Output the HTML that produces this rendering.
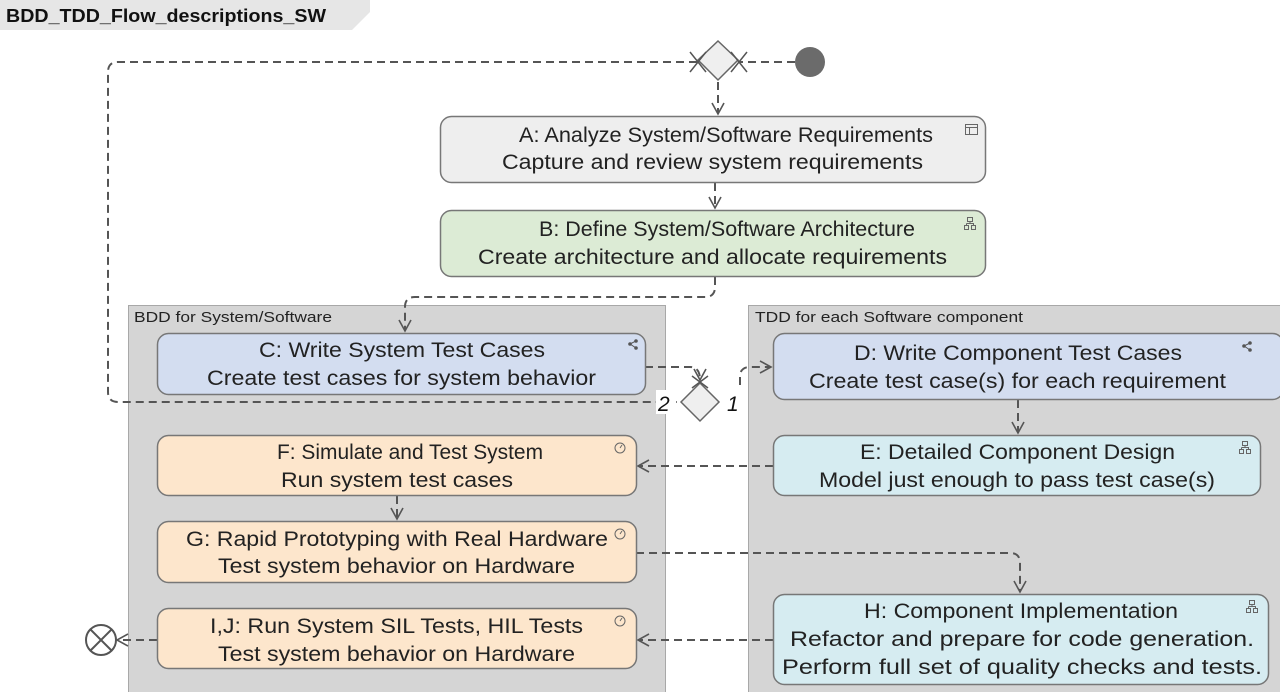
<!DOCTYPE html>
<html><head><meta charset="utf-8"><style>
html,body{margin:0;padding:0;background:#fff;width:1280px;height:692px;overflow:hidden}
svg{display:block}
text{font-family:"Liberation Sans",Arial,sans-serif;fill:#222}
</style></head><body>
<svg width="1280" height="692" viewBox="0 0 1280 692" xmlns="http://www.w3.org/2000/svg">
<defs>
<marker id="ar" markerWidth="14" markerHeight="14" refX="12" refY="7" orient="auto" markerUnits="userSpaceOnUse">
<path d="M1,1 L12,7 L1,13" fill="none" stroke="#555" stroke-width="1.6"/></marker>
</defs>
<path d="M0,0 H370 V12 L352,30 H0 Z" fill="#e6e6e6"/>
<text x="6" y="22" font-size="18" font-weight="bold" textLength="320" lengthAdjust="spacingAndGlyphs" style="fill:#111">BDD_TDD_Flow_descriptions_SW</text>

<rect x="128.5" y="305.5" width="537" height="392" fill="#d5d5d5" stroke="#a8a8a8"/>
<text x="134" y="322" font-size="15" textLength="198" lengthAdjust="spacingAndGlyphs">BDD for System/Software</text>
<rect x="748.5" y="305.5" width="540" height="392" fill="#d5d5d5" stroke="#a8a8a8"/>
<text x="755" y="322" font-size="15" textLength="268" lengthAdjust="spacingAndGlyphs">TDD for each Software component</text>

<g fill="none" stroke="#555" stroke-width="2" stroke-dasharray="8,5">
<path d="M795,62 H740"/>
<path d="M697,62 H118 Q108,62 108,72 V392 Q108,402 118,402 H678"/>
<path d="M718,82 V114" marker-end="url(#ar)"/>
<path d="M715,183 V208" marker-end="url(#ar)"/>
<path d="M715,277 V287 Q715,297 705,297 H415 Q405,297 405,307 V331" marker-end="url(#ar)"/>
<path d="M645,367 H690 Q700,367 700,380" marker-end="url(#ar)"/>
<path d="M740,385 V377 Q740,367 750,367 H771" marker-end="url(#ar)"/>
<path d="M1018,400 V433" marker-end="url(#ar)"/>
<path d="M773,466 H638" marker-end="url(#ar)"/>
<path d="M397,496 V519" marker-end="url(#ar)"/>
<path d="M636,553 H1010 Q1020,553 1020,563 V592" marker-end="url(#ar)"/>
<path d="M773,640 H638" marker-end="url(#ar)"/>
<path d="M157,640 H117" marker-end="url(#ar)"/>
</g>

<path d="M718,41 L738,60 L718,80 L698,60 Z" fill="#efefef" stroke="#666" stroke-width="1.5"/>
<path d="M690,52 L706,72 M690,72 L706,52 M731,52 L747,72 M731,72 L747,52" stroke="#555" stroke-width="1.5"/>
<circle cx="810" cy="62" r="15" fill="#6b6b6b"/>

<path d="M700,383 L719,402 L700,421 L681,402 Z" fill="#efefef" stroke="#666" stroke-width="1.5"/>
<path d="M692,376 L708,388 M692,388 L708,376" stroke="#555" stroke-width="1.5"/>
<rect x="656" y="390" width="20" height="24" fill="#fff"/>
<text x="658" y="411" font-size="21" font-style="italic" style="fill:#111">2</text>
<text x="727" y="411" font-size="21" font-style="italic" style="fill:#111">1</text>

<circle cx="101" cy="640" r="15" fill="#fff" stroke="#555" stroke-width="2"/>
<path d="M90,629 L112,651 M112,629 L90,651" stroke="#555" stroke-width="2"/>

<g stroke="#777" stroke-width="1.5">
<rect x="440.5" y="116.5" width="545" height="66" rx="11" fill="#eeeeee"/>
<rect x="440.5" y="210.5" width="545" height="66" rx="11" fill="#dcebd5"/>
<rect x="157.5" y="333.5" width="488" height="61" rx="11" fill="#d3ddf0"/>
<rect x="773.5" y="333.5" width="510" height="66" rx="11" fill="#d3ddf0"/>
<rect x="773.5" y="435.5" width="487" height="60" rx="11" fill="#d6ecf1"/>
<rect x="157.5" y="435.5" width="479" height="60" rx="11" fill="#fde6cc"/>
<rect x="157.5" y="521.5" width="479" height="61" rx="11" fill="#fde6cc"/>
<rect x="157.5" y="608.5" width="479" height="60" rx="11" fill="#fde6cc"/>
<rect x="773.5" y="594.5" width="495" height="90" rx="11" fill="#d6ecf1"/>
</g>

<g font-size="21">
<text x="519" y="142" textLength="414" lengthAdjust="spacingAndGlyphs">A: Analyze System/Software Requirements</text>
<text x="502" y="169" textLength="421" lengthAdjust="spacingAndGlyphs">Capture and review system requirements</text>
<text x="539" y="236" textLength="376" lengthAdjust="spacingAndGlyphs">B: Define System/Software Architecture</text>
<text x="478" y="264" textLength="469" lengthAdjust="spacingAndGlyphs">Create architecture and allocate requirements</text>
<text x="259" y="357" textLength="286" lengthAdjust="spacingAndGlyphs">C: Write System Test Cases</text>
<text x="207" y="385" textLength="389" lengthAdjust="spacingAndGlyphs">Create test cases for system behavior</text>
<text x="854" y="360" textLength="328" lengthAdjust="spacingAndGlyphs">D: Write Component Test Cases</text>
<text x="809" y="388" textLength="417" lengthAdjust="spacingAndGlyphs">Create test case(s) for each requirement</text>
<text x="860" y="459" textLength="315" lengthAdjust="spacingAndGlyphs">E: Detailed Component Design</text>
<text x="819" y="487" textLength="396" lengthAdjust="spacingAndGlyphs">Model just enough to pass test case(s)</text>
<text x="277" y="459" textLength="266" lengthAdjust="spacingAndGlyphs">F: Simulate and Test System</text>
<text x="281" y="487" textLength="232" lengthAdjust="spacingAndGlyphs">Run system test cases</text>
<text x="186" y="546" textLength="422" lengthAdjust="spacingAndGlyphs">G: Rapid Prototyping with Real Hardware</text>
<text x="218" y="573" textLength="357" lengthAdjust="spacingAndGlyphs">Test system behavior on Hardware</text>
<text x="210" y="633" textLength="373" lengthAdjust="spacingAndGlyphs">I,J: Run System SIL Tests, HIL Tests</text>
<text x="218" y="661" textLength="357" lengthAdjust="spacingAndGlyphs">Test system behavior on Hardware</text>
<text x="864" y="618" textLength="314" lengthAdjust="spacingAndGlyphs">H: Component Implementation</text>
<text x="790" y="646" textLength="464" lengthAdjust="spacingAndGlyphs">Refactor and prepare for code generation.</text>
<text x="782" y="674" textLength="480" lengthAdjust="spacingAndGlyphs">Perform full set of quality checks and tests.</text>
</g>

<g fill="none" stroke="#666" stroke-width="1">
<rect x="965.5" y="124.5" width="12" height="10"/><path d="M965.5,127.5 H977.5 M969.5,127.5 V134.5"/>
<g id="hier"><rect x="967.5" y="217.5" width="5" height="4"/><rect x="964.5" y="225.5" width="4" height="4"/><rect x="971.5" y="225.5" width="4" height="4"/><path d="M970,221.5 V223.5 M966.5,223.5 H973.5 V225.5 M966.5,223.5 V225.5"/></g>
<use href="#hier" x="275" y="224"/>
<use href="#hier" x="282" y="383"/>
<circle cx="620" cy="448" r="5"/><circle cx="620" cy="534" r="5"/><circle cx="620" cy="621" r="5"/>
<path d="M620,448 L622,445 M620,534 L622,531 M620,621 L622,618"/>
</g>
<g fill="#555">
<circle cx="630" cy="344" r="1.8"/><circle cx="636" cy="341" r="1.8"/><circle cx="636" cy="348" r="1.8"/>
<circle cx="1244" cy="346" r="1.8"/><circle cx="1250" cy="343" r="1.8"/><circle cx="1250" cy="350" r="1.8"/>
</g>
<path d="M630,344 L636,341 M630,344 L636,348 M1244,346 L1250,343 M1244,346 L1250,350" stroke="#555" stroke-width="1"/>
</svg>
</body></html>
